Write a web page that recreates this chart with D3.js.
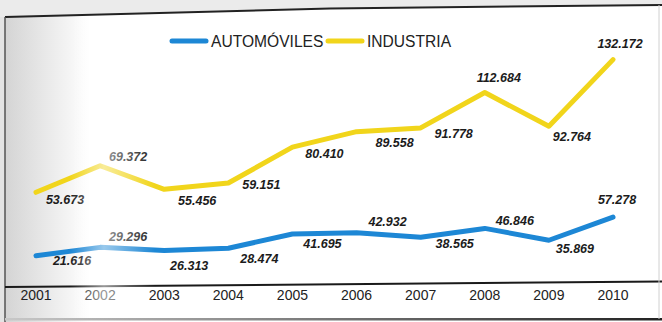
<!DOCTYPE html>
<html>
<head>
<meta charset="utf-8">
<script src="https://cdn.jsdelivr.net/npm/d3@7"></script>
<style>
body { margin: 0; background: #fff; }
svg { display: block; font-family: "Liberation Sans", Arial, sans-serif; }
</style>
</head>
<body>
<svg width="662" height="322"></svg>
<script>
// data (units, Spanish thousands separator)
const years = [2001, 2002, 2003, 2004, 2005, 2006, 2007, 2008, 2009, 2010];
const automoviles = [21616, 29296, 26313, 28474, 41695, 42932, 38565, 46846, 35869, 57278];
const industria = [53673, 69372, 55456, 59151, 80410, 89558, 91778, 112684, 92764, 132172];
const seriesNames = ["AUTOMÓVILES", "INDUSTRIA"];

// label placement around each point (dx, dy)
const autoLabelOff = [[36,5],[28,-11],[25,15],[31,10],[30,10],[31,-11],[34,6],[30,-8],[26,8],[4,-18]];
const indLabelOff = [[29,7],[28,-9],[33,11],[33,1],[32,6],[38,11],[33,6],[14,-15],[23,10],[7,-16]];

const blue = "#1d87d5", yellow = "#f1d51b";

const es = d3.formatLocale({decimal: ",", thousands: ".", grouping: [3], currency: ["", "€"]});
const fmt = es.format(",d");

const svg = d3.select("svg");
const defs = svg.append("defs");

// scan shading
let g1 = defs.append("linearGradient").attr("id", "leftShade");
g1.append("stop").attr("offset", "0%").attr("stop-color", "#d4d4d4");
g1.append("stop").attr("offset", "100%").attr("stop-color", "#ffffff");
let g2 = defs.append("linearGradient").attr("id", "glare");
g2.append("stop").attr("offset", "0%").attr("stop-color", "#fff").attr("stop-opacity", 0);
g2.append("stop").attr("offset", "40%").attr("stop-color", "#fff").attr("stop-opacity", 0.55);
g2.append("stop").attr("offset", "100%").attr("stop-color", "#fff").attr("stop-opacity", 0);
let g3 = defs.append("linearGradient").attr("id", "bottomLine");
g3.append("stop").attr("offset", "0%").attr("stop-color", "#c8c8c8");
g3.append("stop").attr("offset", "100%").attr("stop-color", "#222");

svg.append("rect").attr("x", 0).attr("y", 0).attr("width", 662).attr("height", 322).attr("fill", "#fff");
svg.append("rect").attr("x", 5).attr("y", 10).attr("width", 85).attr("height", 312).attr("fill", "url(#leftShade)");
svg.append("path").attr("d", "M0,0H662V5L330,8L5,17H0Z").attr("fill", "#ebebeb");
svg.append("rect").attr("x", 0).attr("y", 17).attr("width", 5).attr("height", 305).attr("fill", "#e4e4e4");

// scales
const x = d3.scaleLinear().domain([2001, 2010]).range([36, 613]);
const yAuto = d3.scaleLinear().domain([0, 60000]).range([279, 214.2]);
const yInd = d3.scaleLinear().domain([0, 140000]).range([283, 46.4]);

const series = [
  {name: seriesNames[0], values: automoviles, y: yAuto, color: blue, off: autoLabelOff},
  {name: seriesNames[1], values: industria, y: yInd, color: yellow, off: indLabelOff}
];

// lines
series.forEach(s => {
  const line = d3.line().x((d, i) => x(years[i])).y(d => s.y(d));
  svg.append("path")
    .datum(s.values)
    .attr("d", line)
    .attr("fill", "none")
    .attr("stroke", s.color)
    .attr("stroke-width", 5)
    .attr("stroke-linejoin", "round")
    .attr("stroke-linecap", "round");
});

// value labels
series.forEach(s => {
  svg.append("g").selectAll("text")
    .data(s.values)
    .join("text")
    .attr("x", (d, i) => x(years[i]) + s.off[i][0])
    .attr("y", (d, i) => s.y(d) + s.off[i][1])
    .attr("dy", "0.36em")
    .attr("text-anchor", "middle")
    .attr("font-size", 12.5)
    .attr("font-weight", "bold")
    .attr("font-style", "italic")
    .attr("fill", "#1c1c1c")
    .text(d => fmt(d));
});

// legend
const legendX = [172, 328];
series.forEach((s, i) => {
  svg.append("line")
    .attr("x1", legendX[i]).attr("x2", legendX[i] + 34)
    .attr("y1", 41).attr("y2", 41)
    .attr("stroke", s.color).attr("stroke-width", 5).attr("stroke-linecap", "round");
  svg.append("text")
    .attr("x", legendX[i] + 39).attr("y", 46.5)
    .attr("font-size", 15.6)
    .attr("fill", "#222")
    .text(s.name);
});

// frame
svg.append("path").attr("d", "M5,17L330,8.5L662,5").attr("fill", "none").attr("stroke", "#222").attr("stroke-width", 2);
svg.append("line").attr("x1", 5).attr("x2", 5).attr("y1", 17).attr("y2", 322).attr("stroke", "#555").attr("stroke-width", 1.5);
svg.append("line").attr("x1", 5).attr("x2", 662).attr("y1", 287).attr("y2", 281.5).attr("stroke", "#1a1a1a").attr("stroke-width", 2);
svg.append("rect").attr("x", 5).attr("y", 318).attr("width", 657).attr("height", 2.5).attr("fill", "url(#bottomLine)");
svg.append("line").attr("x1", 659).attr("x2", 659).attr("y1", 5).attr("y2", 319).attr("stroke", "#d0d0d0").attr("stroke-width", 1);

// x axis labels
svg.append("g").selectAll("text")
  .data(years)
  .join("text")
  .attr("x", d => x(d))
  .attr("y", 300)
  .attr("text-anchor", "middle")
  .attr("font-size", 14)
  .attr("fill", "#222")
  .text(d => String(d));

// light glare on the scan around 2002
svg.append("rect").attr("x", 70).attr("y", 17).attr("width", 85).attr("height", 300).attr("fill", "url(#glare)");
</script>
</body>
</html>
